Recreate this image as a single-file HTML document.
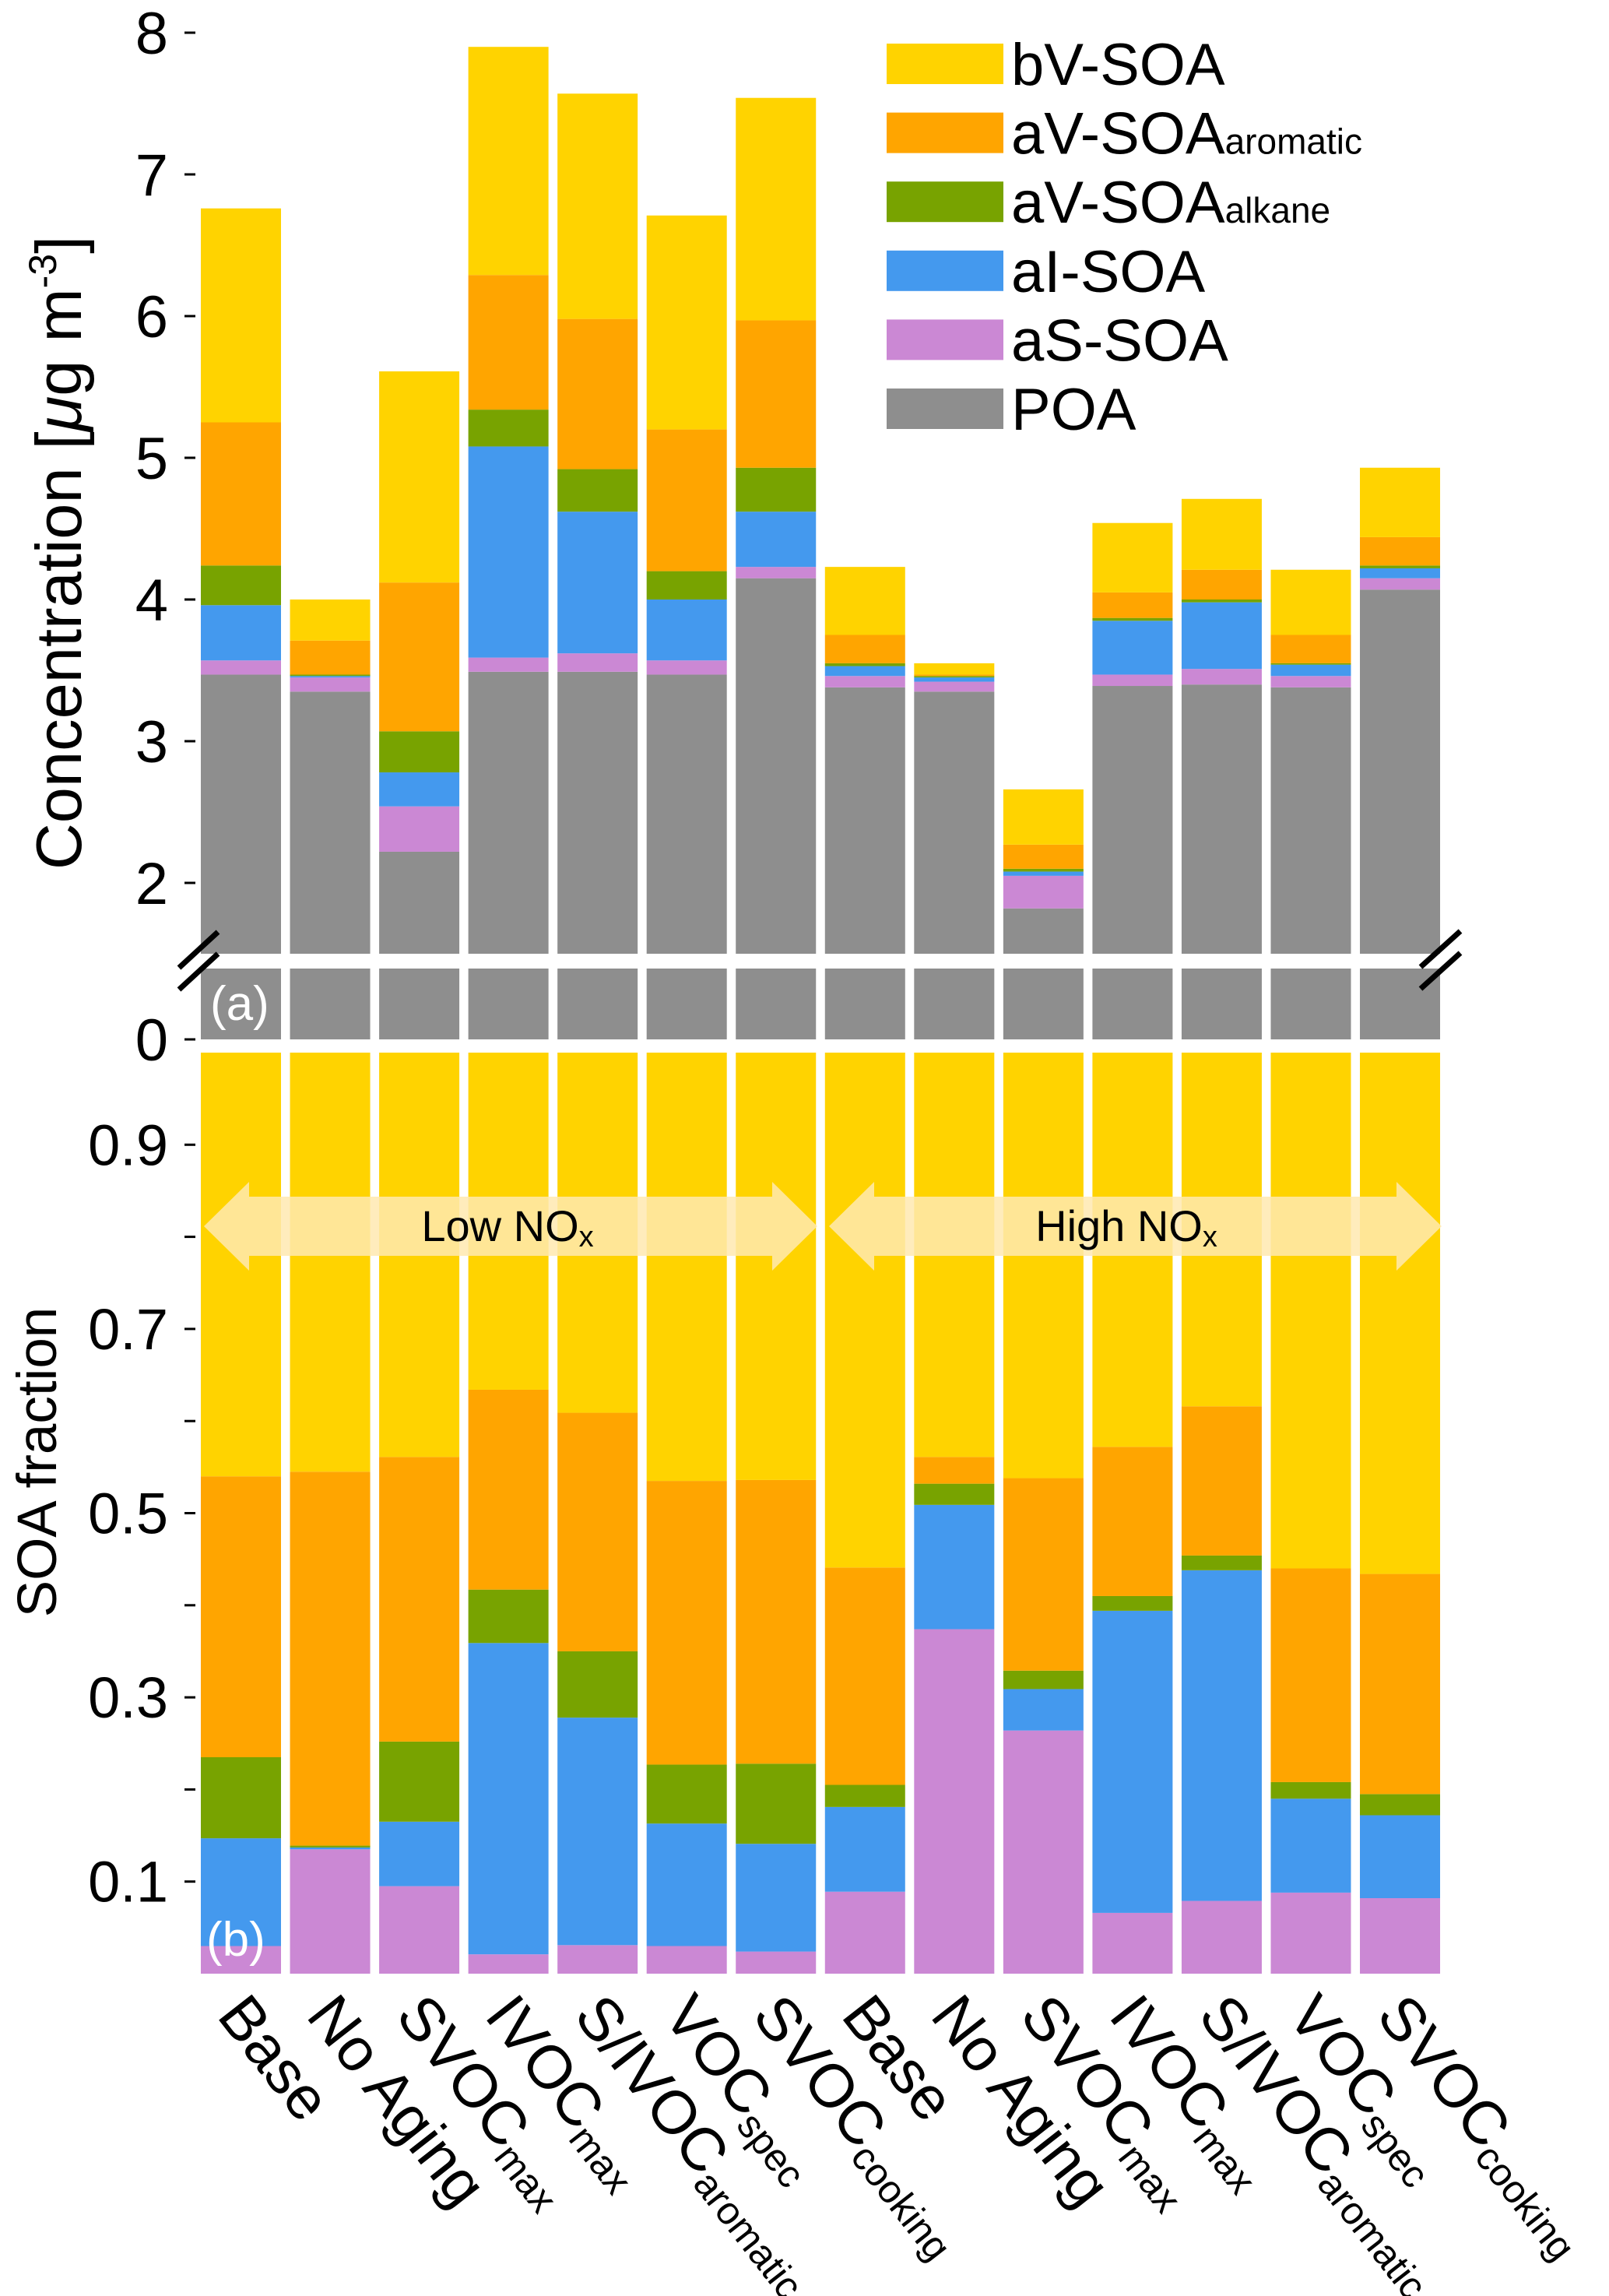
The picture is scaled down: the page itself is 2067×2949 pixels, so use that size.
<!DOCTYPE html>
<html><head><meta charset="utf-8"><style>
html,body{margin:0;padding:0;background:#fff;}
svg{display:block;font-family:"Liberation Sans",sans-serif;}
</style></head><body>
<svg id="chart" width="2067" height="2949" viewBox="0 0 2067 2949" xmlns="http://www.w3.org/2000/svg">
<g id="gA"></g>
<g id="gB"></g>
<g id="gX"></g>
<g id="gL"></g>
<text transform="translate(104,710) rotate(-90)" text-anchor="middle" font-size="83">Concentration [<tspan font-style="italic">μ</tspan>g m<tspan font-size="50" dy="-32">-3</tspan><tspan dy="32">]</tspan></text>
<text transform="translate(72,1878) rotate(-90)" text-anchor="middle" font-size="71">SOA fraction</text>
<g stroke="#000" stroke-width="7"><line x1="230" y1="1243" x2="280" y2="1197"/><line x1="230" y1="1271" x2="280" y2="1225"/></g>
<g stroke="#000" stroke-width="7"><line x1="1825" y1="1242" x2="1876" y2="1196"/><line x1="1825" y1="1270" x2="1876" y2="1224"/></g>
<text x="270" y="1310" font-size="62" fill="#fff">(a)</text>
<text x="265" y="2512" font-size="62" fill="#fff">(b)</text>
</svg>
<script>
const categories=["Base","No Aging","SVOC|max","IVOC|max","S/IVOC|aromatic","VOC|spec","SVOC|cooking","Base","No Aging","SVOC|max","IVOC|max","S/IVOC|aromatic","VOC|spec","SVOC|cooking"];
const seriesNames=["POA","aS-SOA","aI-SOA","aV-SOA|alkane","aV-SOA|aromatic","bV-SOA"];
const colors=["#8e8e8e","#cb88d4","#4499ee","#78a300","#ffa500","#ffd300"];
// cumulative tops, panel a (µg m-3)
const poa=[3.47,3.35,2.22,3.49,3.49,3.47,4.15,3.38,3.35,1.82,3.39,3.40,3.38,4.07];
const asTop=[3.57,3.45,2.54,3.59,3.62,3.57,4.23,3.46,3.42,2.05,3.47,3.51,3.46,4.15];
const aiTop=[3.96,3.46,2.78,5.08,4.62,4.00,4.62,3.53,3.45,2.08,3.85,3.98,3.54,4.22];
const alkTop=[4.24,3.47,3.07,5.34,4.92,4.20,4.93,3.55,3.46,2.10,3.87,4.00,3.55,4.24];
const aroTop=[5.25,3.71,4.12,6.29,5.98,5.20,5.97,3.75,3.47,2.27,4.05,4.21,3.75,4.44];
const total=[6.76,4.00,5.61,7.90,7.57,6.71,7.54,4.23,3.55,2.66,4.54,4.71,4.21,4.93];
// cumulative fractions, panel b
const fAs=[0.030,0.135,0.095,0.021,0.031,0.030,0.024,0.089,0.374,0.264,0.066,0.079,0.088,0.082];
const fAi=[0.147,0.137,0.165,0.359,0.278,0.163,0.141,0.181,0.509,0.309,0.394,0.438,0.190,0.172];
const fAlk=[0.235,0.139,0.252,0.417,0.350,0.227,0.228,0.205,0.532,0.329,0.410,0.454,0.208,0.195];
const fAro=[0.540,0.545,0.561,0.634,0.609,0.535,0.536,0.441,0.561,0.538,0.572,0.616,0.440,0.434];
const ticksA=[2,3,4,5,6,7,8];
const ticksB=[0.1,0.2,0.3,0.4,0.5,0.6,0.7,0.8,0.9];
const ticksBLabel=["0.1","","0.3","","0.5","","0.7","","0.9"];

const NS="http://www.w3.org/2000/svg";
function mk(tag,attrs,parent){const e=document.createElementNS(NS,tag);for(const k in attrs)e.setAttribute(k,attrs[k]);parent.appendChild(e);return e;}
const xLeft=i=>258+i*114.54, bw=103;
const yA=v=>1134-(v-2)*182;
const yA0=v=>1335-v*182;
const yB=f=>2535-f*1183;
const gA=document.getElementById('gA'),gB=document.getElementById('gB'),gX=document.getElementById('gX'),gL=document.getElementById('gL');

for(let i=0;i<categories.length;i++){
  const bounds=[1.5,poa[i],asTop[i],aiTop[i],alkTop[i],aroTop[i],total[i]];
  for(let s=0;s<6;s++){
    const r=mk('rect',{x:xLeft(i),width:bw,y:yA(bounds[s+1]),height:Math.max(0,yA(bounds[s])-yA(bounds[s+1])),fill:colors[s]},gA);
    
    
  }
  const r0=mk('rect',{x:xLeft(i),width:bw,y:yA0(0.5),height:yA0(0)-yA0(0.5),fill:colors[0]},gA);
  
  
  const fb=[0,fAs[i],fAi[i],fAlk[i],fAro[i],1];
  for(let s=0;s<5;s++){
    const r=mk('rect',{x:xLeft(i),width:bw,y:yB(fb[s+1]),height:Math.max(0,yB(fb[s])-yB(fb[s+1])),fill:colors[s+1]},gB);
    
    
  }
  const parts=categories[i].split('|');
  const cx=xLeft(i)+bw/2+12;
  const t=mk('text',{transform:`translate(${cx},2555) rotate(52)`,'font-size':78,dy:'0.72em'},gX);
  
  
  t.textContent=parts[0];
  if(parts[1]){const ts=mk('tspan',{'font-size':50,dy:'12'},t);ts.textContent=parts[1];}
}
ticksA.forEach(v=>{
  const l=mk('line',{x1:237,x2:251,y1:yA(v),y2:yA(v),stroke:'#000','stroke-width':3},gA);
  
  
  const t=mk('text',{x:216,y:yA(v)+27,'text-anchor':'end','font-size':76},gA);
  
  
  t.textContent=v;
});
{const l=mk('line',{x1:237,x2:251,y1:yA0(0),y2:yA0(0),stroke:'#000','stroke-width':3},gA);


const t=mk('text',{x:216,y:yA0(0)+27,'text-anchor':'end','font-size':76},gA);


t.textContent='0';}
ticksB.forEach((v,k)=>{
  const l=mk('line',{x1:237,x2:251,y1:yB(v),y2:yB(v),stroke:'#000','stroke-width':3},gB);
  
  
  if(ticksBLabel[k]){
    const t=mk('text',{x:216,y:yB(v)+26,'text-anchor':'end','font-size':74},gB);
    
    
    t.textContent=ticksBLabel[k];
  }
});
function arrow(x1,x2,label,lx,name){
  const cy=1575,hh=57,bh=38,hl=58;
  const p=mk('polygon',{points:`${x1},${cy} ${x1+hl},${cy-hh} ${x1+hl},${cy-bh} ${x2-hl},${cy-bh} ${x2-hl},${cy-hh} ${x2},${cy} ${x2-hl},${cy+hh} ${x2-hl},${cy+bh} ${x1+hl},${cy+bh} ${x1+hl},${cy+hh}`,fill:'#ffe9b0','fill-opacity':'0.85'},gB);
  
  
  const t=mk('text',{x:lx,y:cy+19,'text-anchor':'middle','font-size':56},gB);
  
  
  t.textContent=label;
  const s=mk('tspan',{'font-size':38,dy:'7'},t);s.textContent='x';
}
arrow(262,1050,'Low NO',652,'low-nox');
arrow(1065,1852,'High NO',1447,'high-nox');
const legOrder=[5,4,3,2,1,0];
legOrder.forEach((s,k)=>{
  const cy=82+k*88.6;
  const r=mk('rect',{x:1139,y:cy-26,width:150,height:52,fill:colors[s]},gL);
  
  
  const p=seriesNames[s].split('|');
  const t=mk('text',{x:1299,y:cy+27,'font-size':76},gL);
  
  
  t.textContent=p[0];
  if(p[1]){const ts=mk('tspan',{'font-size':46},t);ts.textContent=p[1];}
});
</script>
</body></html>
